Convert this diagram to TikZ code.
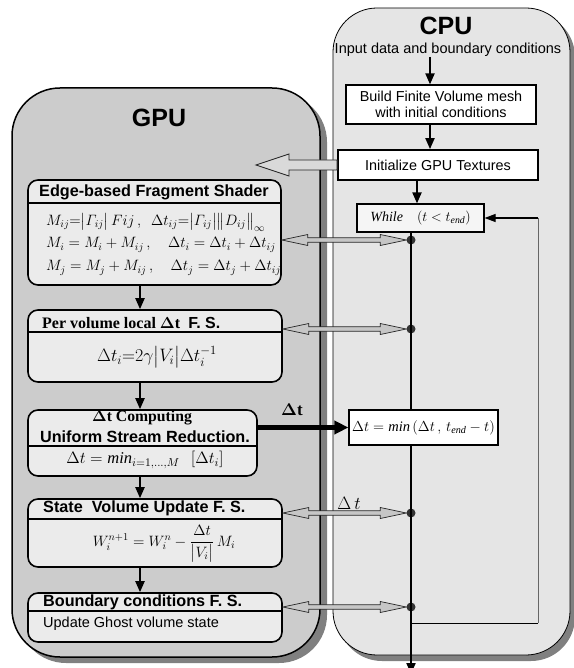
\RequirePackage{fix-cm}
\documentclass[tikz,border=0pt]{standalone}
\usepackage{amsmath}
\usepackage{fontspec}
\setmainfont{Liberation Serif}
\setsansfont{Liberation Sans}
\usetikzlibrary{arrows.meta,calc}
\tikzset{
  fsbox/.style={draw, line width=1.6pt, rounded corners=10pt, fill=gray!16, inner sep=0pt},
  wbox/.style={draw, line width=1.2pt, fill=white, inner sep=0pt, align=center},
  barr/.style={line width=2pt, -{Triangle[length=11pt,width=9pt]}},
  dbar/.style={draw=black!85, line width=0.7pt, fill=gray!45},
  dotn/.style={circle, fill=black!80, minimum size=9pt, inner sep=0pt},
  ttl/.style={font=\sffamily\bfseries\fontsize{16.2}{18}\selectfont, inner sep=0pt},
  sttl/.style={font=\rmfamily\bfseries\fontsize{15.7}{18}\selectfont, inner sep=0pt},
  frm/.style={font=\fontsize{15}{17}\selectfont, inner sep=0pt},
  sepl/.style={line width=1.6pt},
}
\newcommand\dblarr[3]{% left point, right point, style
  \path[#3] let \p1=#1, \p2=#2 in
    (\x1,\y1) -- (\x1+26pt,\y1+5.5pt) -- (\x1+26pt,\y1+2.2pt) -- (\x2-26pt,\y2+2.2pt)
    -- (\x2-26pt,\y2+5.5pt) -- (\x2,\y2) -- (\x2-26pt,\y2-5.5pt) -- (\x2-26pt,\y2-2.2pt)
    -- (\x1+26pt,\y1-2.2pt) -- (\x1+26pt,\y1-5.5pt) -- cycle;}
\begin{document}
\begin{tikzpicture}[x=1pt,y=-1pt]
\useasboundingbox (0,0) rectangle (573,668);
% panels
\fill[black!50, rounded corners=48pt] (18,94) rectangle (327,663);
\draw[fill=gray!40, line width=1.5pt, rounded corners=48pt] (12,88) rectangle (320,657);
\fill[black!50, rounded corners=44pt] (338,13) rectangle (575,661);
\draw[fill=gray!20, line width=0.8pt, rounded corners=44pt] (333,8) rectangle (570,655);
\node[font=\sffamily\bfseries\fontsize{25}{25}\selectfont] (gputitle) at (159,118) {GPU};
\node[font=\sffamily\bfseries\fontsize{25}{25}\selectfont] (cputitle) at (446,26) {CPU};

% CPU side
\node[font=\sffamily\fontsize{14.5}{16}\selectfont, inner sep=0pt] (input) at (448,50) {Input data and boundary conditions};
\node[wbox, minimum width=190pt, minimum height=39pt, font=\sffamily\fontsize{14.4}{16.5}\selectfont] (build) at (441,104.5) {Build Finite Volume mesh\\ with initial conditions};
\node[wbox, line width=1.8pt, minimum width=200pt, minimum height=30pt, font=\sffamily\fontsize{14.4}{16}\selectfont] (init) at (438,165) {Initialize GPU Textures};
\node[wbox, fill=gray!8, minimum width=127pt, minimum height=28pt, font=\fontsize{14}{16}\selectfont] (while) at (420.5,218) {$\mathit{While}\quad(t<t_{\mathit{end}})$};
\node[wbox, minimum width=149pt, minimum height=35pt, font=\fontsize{14.5}{16}\selectfont] (mbox) at (423.5,427.5) {$\Delta t=\mathit{min}\,(\Delta t\,,\,t_{\mathit{end}}-t)$};

\coordinate (ca) at (430,0);
\coordinate (cb) at (417,0);
\draw[barr] (input.south -| ca) -- (build.north -| ca);
\draw[barr] (build.south -| ca) -- (init.north -| ca);
\draw[barr] (init.south -| cb) -- (while.north -| cb);

\node[dotn] (d1) at (411,240) {};
\node[dotn] (d2) at (411,329) {};
\node[dotn] (d3) at (411,513) {};
\node[dotn] (d4) at (411,607) {};
\coordinate (lp) at (411,623);
\coordinate (lr) at (538,623);
\coordinate (bot) at (411,674);
\draw[line width=2pt] (while.south -| d1) -- (d1.center) -- (d2.center) -- (mbox.north -| d2);
\draw[line width=2pt] (mbox.south -| d3) -- (d3.center) -- (d4.center) -- (lp);
\draw[barr] (lp) -- (bot);
\draw[line width=1pt] (lp) -- (lr);
\draw[line width=1pt, black!60] (lr) -- (lr |- while.east);
\draw[line width=1.2pt, -{Triangle[length=11pt,width=8pt]}] (lr |- while.east) -- (while.east);

% GPU boxes
\node[fsbox, minimum width=253pt, minimum height=105pt] (e1) at (154.5,232.5) {};
\node[fsbox, minimum width=254pt, minimum height=72pt] (e2) at (155,346) {};
\node[fsbox, minimum width=229pt, minimum height=66pt] (e3) at (142.5,443) {};
\node[fsbox, minimum width=254pt, minimum height=68pt] (e4) at (155,533) {};
\node[fsbox, minimum width=254pt, minimum height=49pt] (e5) at (155,617.5) {};
\draw[sepl] (e1.west |- 0,203) -- (e1.east |- 0,203);
\draw[sepl] (e2.west |- 0,332) -- (e2.east |- 0,332);
\draw[sepl] (e3.west |- 0,446) -- (e3.east |- 0,446);
\draw[sepl] (e4.west |- 0,519) -- (e4.east |- 0,519);
\draw[sepl] (e5.west |- 0,611) -- (e5.east |- 0,611);

\node[ttl] (t1) at (154,192) {Edge-based Fragment Shader};
\node[frm, anchor=west] (f1a) at (46,222) {$M_{ij}{=}\bigl|\varGamma_{ij}\bigr|\,Fij\,,\ \ \Delta t_{ij}{=}\bigl|\varGamma_{ij}\bigr|\bigl\|D_{ij}\bigr\|_\infty$};
\node[frm, anchor=west] (f1b) at (46,245) {$M_i=M_i+M_{ij}\,,\quad \Delta t_i=\Delta t_i+\Delta t_{ij}$};
\node[frm, anchor=west] (f1c) at (46,268) {$M_j=M_j+M_{ij}\,,\quad \Delta t_j=\Delta t_j+\Delta t_{ij}$};

\node[inner sep=0pt, anchor=west] (t2) at (42,323) {{\rmfamily\bfseries\fontsize{16}{18}\selectfont Per volume local $\boldsymbol{\Delta}$t\ \ }{\sffamily\bfseries\fontsize{16}{18}\selectfont F. S.}};
\node[inner sep=0pt, font=\fontsize{18}{22}\selectfont] (f2) at (157,357) {$\Delta t_i{=}2\gamma\bigl|V_i\bigr|\Delta t_i^{-1}$};

\node[sttl] (t3a) at (142,418) {$\boldsymbol{\Delta}$t Computing};
\node[ttl] (t3b) at (145,437) {Uniform Stream Reduction.};
\node[inner sep=0pt, font=\fontsize{16.5}{18}\selectfont] (f3) at (145,460) {$\Delta t=\mathit{min}_{i=1,\ldots,M}\ \ \left[\Delta t_i\right]$};

\node[ttl, anchor=west] (t4) at (43,508) {State\ \ Volume Update F. S.};
\node[inner sep=0pt, font=\fontsize{15}{17}\selectfont] (f4) at (164,544) {$W_i^{n+1}=W_i^n-\dfrac{\Delta t}{\bigl|V_i\bigr|}\,M_i$};

\node[ttl, anchor=west] (t5) at (43,602) {Boundary conditions F. S.};
\node[inner sep=0pt, anchor=west, font=\sffamily\fontsize{14.5}{16}\selectfont] (b5) at (43,624) {Update Ghost volume state};

\coordinate (ax) at (140,0);
\draw[barr] (e1.south -| ax) -- (e2.north -| ax);
\draw[barr] (e2.south -| ax) -- (e3.north -| ax);
\draw[barr] (e3.south -| ax) -- (e4.north -| ax);
\draw[barr] (e4.south -| ax) -- (e5.north -| ax);

% double arrows
\dblarr{(e1.east |- d1)}{(d1.west)}{dbar}
\dblarr{(e2.east |- d2)}{(d2.west)}{dbar}
\dblarr{(e4.east |- d3)}{(d3.west)}{dbar}
\dblarr{(e5.east |- d4)}{(d4.west)}{dbar}
\node[inner sep=0pt, font=\fontsize{18}{20}\selectfont] (dtl) at (349,503) {$\Delta\,t$};

% big hollow arrow to GPU
\coordinate (gtip) at (256,165);
\path[draw=black!85, line width=0.8pt, fill=gray!30] let \p1=(gtip), \p2=(init.west) in
  (\x1,\y1) -- (\x1+33pt,\y1+11pt) -- (\x1+33pt,\y1+5pt) -- (\x2,\y2+5pt)
  -- (\x2,\y2-5pt) -- (\x1+33pt,\y1-5pt) -- (\x1+33pt,\y1-11pt) -- cycle;

% thick dt arrow
\draw[line width=5pt, -{Triangle[length=14pt,width=13pt]}] (e3.east |- mbox.west) -- (mbox.west);
\node[sttl, font=\rmfamily\bfseries\fontsize{17}{18}\selectfont] (dtb) at (292,410) {$\boldsymbol{\Delta}$t};
\end{tikzpicture}
\end{document}
